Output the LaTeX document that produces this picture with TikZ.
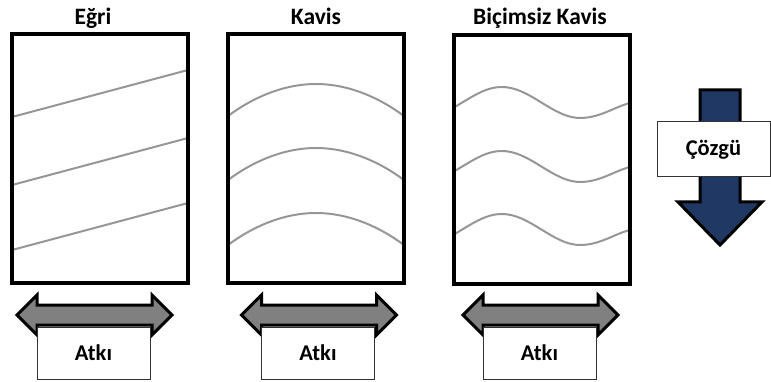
\documentclass[tikz,border=0pt]{standalone}
\usepackage{fontspec}
\setmainfont{Carlito}
\usetikzlibrary{positioning}
\definecolor{cozgublue}{RGB}{31,56,100}
\definecolor{atkigray}{RGB}{128,128,128}
\definecolor{threadgray}{RGB}{150,150,150}
\begin{document}
\begin{tikzpicture}[x=1pt, y=-1pt,
  frame/.style={draw, line width=4pt, minimum width=176pt, minimum height=249pt, inner sep=0pt},
  title/.style={font=\fontsize{23.5}{27}\selectfont\bfseries, anchor=base},
  thread/.style={threadgray, line width=2pt},
  labelbox/.style={draw=black!80, fill=white, line width=1pt, minimum width=113pt, minimum height=52pt, font=\fontsize{22.5}{26}\selectfont\bfseries},
  atkiarrow/.style={fill=atkigray, draw=black, line width=3pt, line join=miter}]
\useasboundingbox (0,0) rectangle (771,382);

% threads
\foreach \dy in {0,68,133}
  \draw[thread] (12,117+\dy) -- (188,70+\dy);
\foreach \dy in {0,64,129}
  \draw[thread] (228,116+\dy) parabola bend (316,84+\dy) (404,116+\dy);
\foreach \dy in {0,64,127}
  \draw[thread] (453,108+\dy) .. controls (472,97+\dy) and (485,87+\dy) .. (502,87+\dy)
    .. controls (530,87+\dy) and (553,118+\dy) .. (580,118+\dy)
    .. controls (600,118+\dy) and (614,107+\dy) .. (630,103+\dy);

% frames
\node[frame] (egri)     at (100,158.5)   {};
\node[frame] (kavis)    at (316,158.5)   {};
\node[frame] (bicimsiz) at (541.5,159.5) {};

\node[title] (t1) at (93,25)  {Eğri};
\node[title] (t2) at (316,25) {Kavis};
\node[title] (t3) at (540,25) {Biçimsiz Kavis};

% weft arrows
\foreach \c/\n in {94.5/1, 319/2, 540.5/3} {
  \draw[atkiarrow] (\c-77.5,315) -- (\c-57.5,295) -- (\c-57.5,305) -- (\c+57.5,305)
    -- (\c+57.5,295) -- (\c+77.5,315) -- (\c+57.5,335) -- (\c+57.5,325)
    -- (\c-57.5,325) -- (\c-57.5,335) -- cycle;
  \node[labelbox] (atki\n) at (\c-1,353) {Atkı};
}

% warp arrow
\draw[atkiarrow, fill=cozgublue] (700,90) -- (740,90) -- (740,202) -- (762,202)
  -- (720,245) -- (678,202) -- (700,202) -- cycle;
\node[labelbox, minimum height=55pt] (cozgu) at (713.5,149.5) {Çözgü};
\end{tikzpicture}
\end{document}
